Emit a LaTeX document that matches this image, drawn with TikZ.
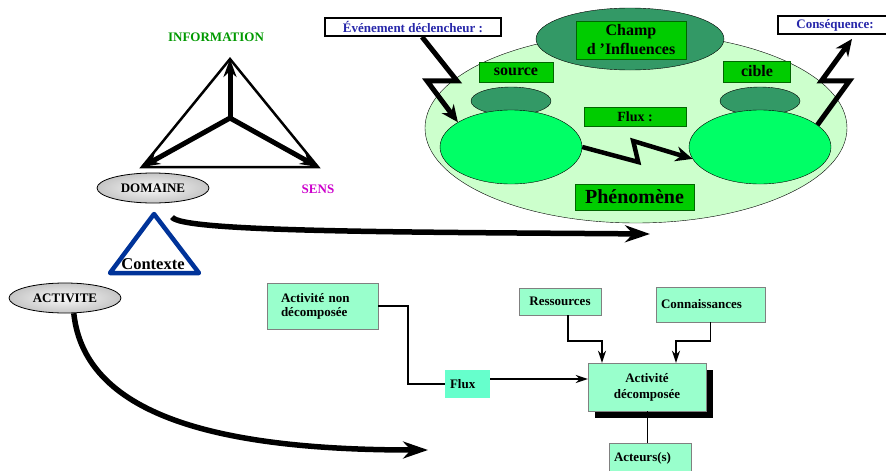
\documentclass[tikz,border=0pt]{standalone}
\usepackage{fontspec}
\setmainfont{Liberation Serif}
\usepackage{tikz}
\usetikzlibrary{shapes.geometric,arrows.meta,calc,positioning,shadows}

\definecolor{phenogreen}{RGB}{204,255,204}
\definecolor{champgreen}{RGB}{51,153,102}
\definecolor{flashgreen}{RGB}{0,255,102}
\definecolor{labelgreen}{RGB}{0,204,0}
\definecolor{mintbox}{RGB}{153,255,204}
\definecolor{fluxfill}{RGB}{102,255,204}
\definecolor{infogreen}{RGB}{0,153,0}
\definecolor{sensmagenta}{RGB}{204,0,204}
\definecolor{ctxblue}{RGB}{0,51,153}
\definecolor{calloutblue}{RGB}{40,40,170}

\tikzstyle{txt} = [font=\fontsize{13}{14}\selectfont\bfseries]
\tikzstyle{bigtxt} = [font=\fontsize{16}{19}\selectfont\bfseries]
\tikzstyle{marble} = [ellipse, draw=black, thick, inner sep=0pt, minimum width=112pt, minimum height=30pt, inner color=gray!5, outer color=gray!45, txt]
\tikzstyle{pool} = [ellipse, draw=black, inner sep=0pt]
\tikzstyle{greenbox} = [rectangle, draw=green!40!black, fill=labelgreen, inner sep=0pt, bigtxt]
\tikzstyle{callout} = [rectangle, draw=black, line width=1.8pt, fill=white, inner sep=0pt, text=calloutblue, txt]
\tikzstyle{activity} = [rectangle, draw=gray, fill=mintbox, inner sep=0pt, align=left, txt]
\tikzstyle{infoarrow} = [line width=5pt, -{Stealth[length=18pt,width=13pt]}]
\tikzstyle{bolt} = [line width=5pt, -{Stealth[length=17pt,width=15pt]}]
\tikzstyle{bigarrow} = [line width=5.5pt, -{Stealth[length=25pt,width=17pt]}]
\tikzstyle{link} = [line width=1.6pt]
\tikzstyle{arrow} = [link, -{Stealth[length=12pt,width=8pt]}]

\begin{document}
\begin{tikzpicture}[x=1pt, y=-1pt]
\useasboundingbox (0,0) rectangle (886,471);
\clip (0,0) rectangle (886,471);

% information / domaine / sens
\coordinate (infotop) at (230,59);
\coordinate (infoleft) at (142,167);
\coordinate (inforight) at (318,167);
\coordinate (infomid) at (230,118);
\draw [line width=2.5pt] (infotop) -- (infoleft) -- (inforight) -- cycle;
\draw [infoarrow] (infomid) -- (infotop);
\draw [infoarrow] (infomid) -- (infoleft);
\draw [infoarrow] (infomid) -- (inforight);

\node (information) [txt, text=infogreen] at (216,37) {INFORMATION};
\node (sens) [txt, text=sensmagenta] at (318,189) {SENS};
\node (domaine) [marble] at (153,188) {DOMAINE};
\node (activite) [marble] at (65,298) {ACTIVITE};

% contexte
\coordinate (ctxtop) at (154,214);
\coordinate (ctxleft) at (110,273);
\coordinate (ctxright) at (199,273);
\draw [ctxblue, line width=4.5pt, line join=round] (ctxtop) -- (ctxleft) -- (ctxright) -- cycle;
\node (contexte) [font=\fontsize{16.5}{18}\selectfont\bfseries] at (153,264) {Contexte};

% phenomene
\node (phenomenon) [pool, fill=phenogreen, minimum width=422pt, minimum height=190pt] at (636,128) {};
\node (champ) [pool, fill=champgreen, minimum width=188pt, minimum height=62pt] at (630,39) {};
\node (champlbl) [greenbox, minimum width=110pt, minimum height=38pt, align=center] at (631,40) {Champ\\d 'Influences};
\node (srcdark) [pool, fill=champgreen, minimum width=80pt, minimum height=28pt] at (511,101) {};
\node (cbldark) [pool, fill=champgreen, minimum width=80pt, minimum height=28pt] at (760,101) {};
\node (srcbody) [pool, fill=flashgreen, minimum width=142pt, minimum height=74pt] at (511,147) {};
\node (cblbody) [pool, fill=flashgreen, minimum width=142pt, minimum height=74pt] at (760,147) {};
\node (source) [greenbox, minimum width=74pt, minimum height=20pt] at (516,72) {source};
\node (cible) [greenbox, minimum width=67pt, minimum height=21pt] at (757,71.5) {cible};
\node (fluxlbl) [greenbox, font=\fontsize{14}{16}\selectfont\bfseries, minimum width=102pt, minimum height=19pt] at (635,116.5) {Flux :};
\node (pheno) [greenbox, font=\fontsize{20}{22}\selectfont\bfseries, minimum width=119pt, minimum height=26pt] at (634.5,197) {Phénomène};

\node (evt) [callout, minimum width=176pt, minimum height=18pt] at (413,27) {Événement déclencheur :};
\node (csq) [callout, minimum width=114pt, minimum height=18pt] at (835,25) {Conséquence:};

\draw [bolt] ([xshift=9pt]evt.south) -- ++(35,44) -- ++(-30,0) -- (srcbody.155);
\draw [bolt] (cblbody.21) -- ++(32,-44) -- ++(-28,0) -- ([xshift=17pt,yshift=-4pt]csq.south);
\draw [bolt, line width=4.5pt] (srcbody.east) -- ++(56,15) -- ++(-5,-21) -- (cblbody.190);

% big curved arrows
\coordinate (domstart) at (172,217);
\coordinate (domend) at (650,234);
\draw [bigarrow] (domstart) .. controls (180,232) and (400,232) .. (domend);
\coordinate (actend) at (428,450);
\draw [bigarrow] (activite.-60) .. controls (85,420) and (230,450) .. (actend);

% activite decomposee
\node (anondec) [activity, minimum width=111pt, minimum height=46pt, text width=83pt] at (322.5,306) {Activité non\\décomposée};
\node (fluxbox) [activity, draw=none, fill=fluxfill, minimum width=45pt, minimum height=28pt, text width=35pt] at (467.5,384) {Flux};
\node (ressources) [activity, minimum width=82pt, minimum height=27pt, align=center] at (560,301.5) {Ressources};
\node (connaissances) [activity, minimum width=109pt, minimum height=35pt, text width=99pt] at (710.5,304.5) {Connaissances};
\node (adecomp) [activity, align=center, font=\fontsize{13}{16}\selectfont\bfseries, minimum width=118pt, minimum height=48pt, drop shadow={shadow xshift=7pt, shadow yshift=-7pt, opacity=1, fill=black}] at (647,387) {Activité\\décomposée};
\node (acteurs) [activity, minimum width=82pt, minimum height=30pt, text width=72pt, below=32pt of adecomp, xshift=3pt] {Acteurs(s)};

\draw [link] (anondec.east) -- ++(30,0) |- (fluxbox.west);
\draw [arrow] ([yshift=5pt]fluxbox.east) -- ([yshift=8pt]adecomp.west);
\draw [arrow] ([xshift=8pt]ressources.south) -- ++(0,26) -| ([xshift=-45pt]adecomp.north);
\draw [arrow] (connaissances.south) -- ++(0,19) -| ([xshift=29pt]adecomp.north);
\draw [thick] (adecomp.south) -- (adecomp.south |- acteurs.north);

\end{tikzpicture}
\end{document}
